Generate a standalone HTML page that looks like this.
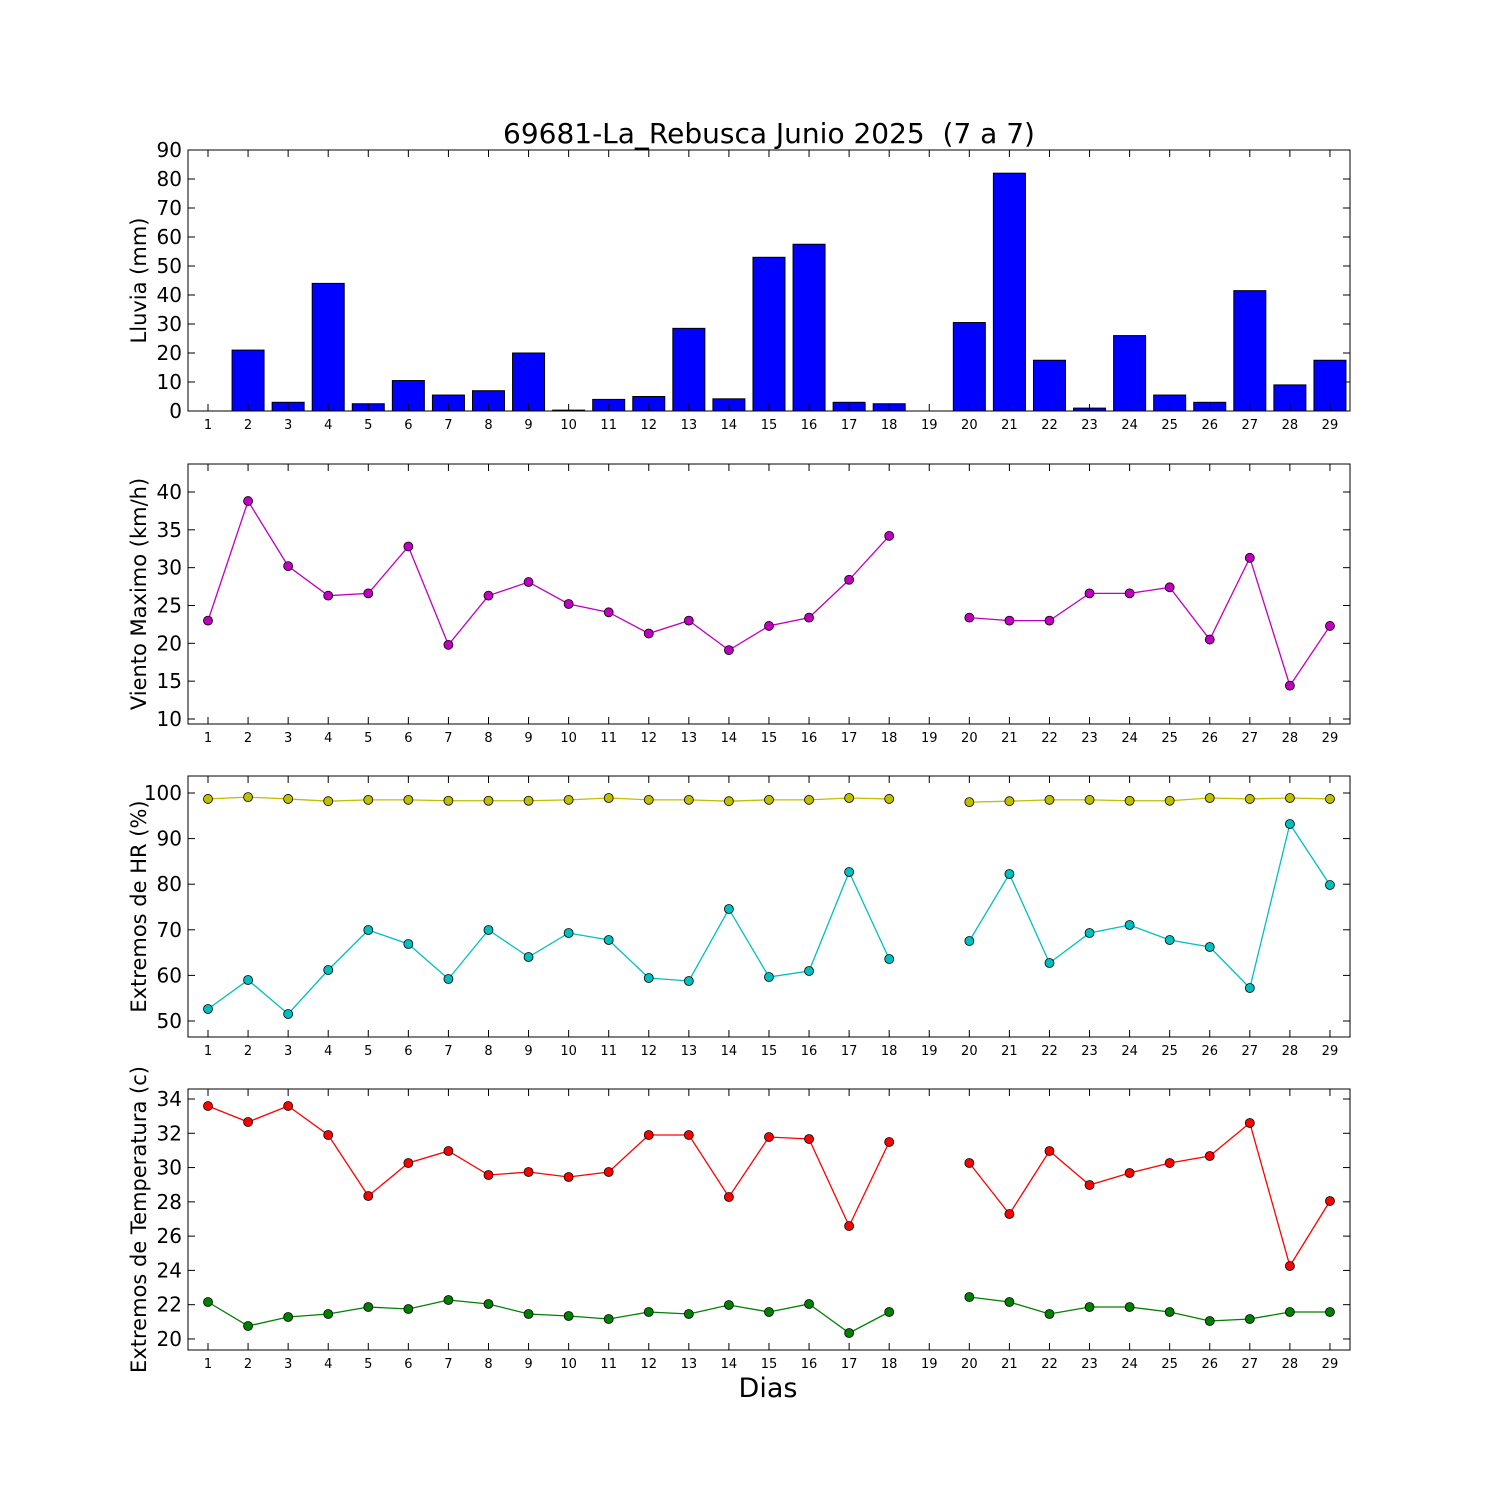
<!DOCTYPE html>
<html><head><meta charset="utf-8"><style>html,body{margin:0;padding:0;background:#fff}svg{display:block}text{font-family:"DejaVu Sans","Liberation Sans",sans-serif}</style></head>
<body><svg id="s" width="1500" height="1500" xmlns="http://www.w3.org/2000/svg"></svg>
<script>
const s=document.getElementById('s');let h='';
const L=188,R=1350;const X=d=>208+(d-1)*40.07;
h+='<rect width="1500" height="1500" fill="#fff"/>';
h+='<text x="769" y="143" font-size="28" text-anchor="middle" xml:space="preserve">69681-La_Rebusca Junio 2025  (7 a 7)</text>';
h+='<text x="768" y="1397" font-size="27" text-anchor="middle">Dias</text>';
function panel(top,bot,ticks,Y,label){
  ticks.forEach(t=>{const y=Y(t);h+=`<line x1="${L}" x2="${L+7}" y1="${y}" y2="${y}" stroke="#000"/><line x1="${R-7}" x2="${R}" y1="${y}" y2="${y}" stroke="#000"/><text x="182" y="${y+7}" font-size="20" text-anchor="end">${t}</text>`;});
  for(let d=1;d<=29;d++){const x=X(d);h+=`<line x1="${x}" x2="${x}" y1="${bot-7}" y2="${bot}" stroke="#000"/><line x1="${x}" x2="${x}" y1="${top}" y2="${top+7}" stroke="#000"/><text x="${x}" y="${bot+18}" font-size="13" text-anchor="middle">${d}</text>`;}
  const cy=(top+bot)/2;h+=`<text transform="translate(146 ${cy}) rotate(-90)" font-size="21" text-anchor="middle">${label}</text>`;
}
function frame(top,bot){h+=`<rect x="${L}" y="${top}" width="${R-L}" height="${bot-top}" fill="none" stroke="#000" stroke-width="1"/>`;}
function line(ys,col){let segs=[],cur=[];ys.forEach((y,i)=>{if(y==null){if(cur.length)segs.push(cur);cur=[];}else cur.push([X(i+1),y]);});if(cur.length)segs.push(cur);
 segs.forEach(sg=>{h+=`<polyline points="${sg.map(p=>p.join(',')).join(' ')}" fill="none" stroke="${col}" stroke-width="1.3"/>`;});
 ys.forEach((y,i)=>{if(y!=null)h+=`<circle cx="${X(i+1)}" cy="${y}" r="4.5" fill="${col}" stroke="#000" stroke-width="0.8"/>`;});}
const rain=[0,21,3,44,2.5,10.5,5.5,7,20,0.3,4,5,28.5,4.2,53,57.5,3,2.5,0,30.5,82,17.5,1,26,5.5,3,41.5,9,17.5];
const Y1=v=>411-v*2.9;
rain.forEach((v,i)=>{if(v>0){const x=X(i+1)-16;h+=`<rect x="${x}" y="${Y1(v)}" width="32" height="${v*2.9}" fill="#0000ff" stroke="#000" stroke-width="1"/>`;}else{h+=`<line x1="${X(i+1)-16}" x2="${X(i+1)+16}" y1="411" y2="411" stroke="#000"/>`;}});
panel(150,411,[0,10,20,30,40,50,60,70,80,90],Y1,'Lluvia (mm)');frame(150,411);
const Y2=v=>719-(v-10)*7.567;
const w=[23,38.8,30.2,26.3,26.6,32.8,19.8,26.3,28.1,25.2,24.1,21.3,23,19.1,22.3,23.4,28.4,34.2,null,23.4,23,23,26.6,26.6,27.4,20.5,31.3,14.4,22.3];
panel(464,724,[10,15,20,25,30,35,40],Y2,'Viento Maximo (km/h)');line(w.map(v=>v==null?null:Y2(v)),'#bf00bf');frame(464,724);
const Y3=v=>793+(100-v)*4.56;
const yel=[98.7,99.1,98.7,98.2,98.5,98.5,98.3,98.3,98.3,98.5,98.9,98.5,98.5,98.2,98.5,98.5,98.9,98.7,null,98,98.2,98.5,98.5,98.3,98.3,98.9,98.7,98.9,98.7];
const cy=[1009,980,1014,970,930,944,979,930,957,933,940,978,981,909,977,971,872,959,null,941,874,963,933,925,940,947,988,824,885];
panel(776,1037,[50,60,70,80,90,100],Y3,'Extremos de HR (%)');line(yel.map(v=>v==null?null:Y3(v)),'#bfbf00');line(cy,'#00bfbf');frame(776,1037);
const Y4=v=>1099+(34-v)*17.14;
const red=[1106,1122,1106,1135,1196,1163,1151,1175,1172,1177,1172,1135,1135,1197,1137,1139,1226,1142,null,1163,1214,1151,1185,1173,1163,1156,1123,1266,1201];
const grn=[1302,1326,1317,1314,1307,1309,1300,1304,1314,1316,1319,1312,1314,1305,1312,1304,1333,1312,null,1297,1302,1314,1307,1307,1312,1321,1319,1312,1312];
panel(1089,1350,[20,22,24,26,28,30,32,34],Y4,'Extremos de Temperatura (c)');line(red,'#ff0000');line(grn,'#008000');frame(1089,1350);
s.innerHTML=h;
</script></body></html>
